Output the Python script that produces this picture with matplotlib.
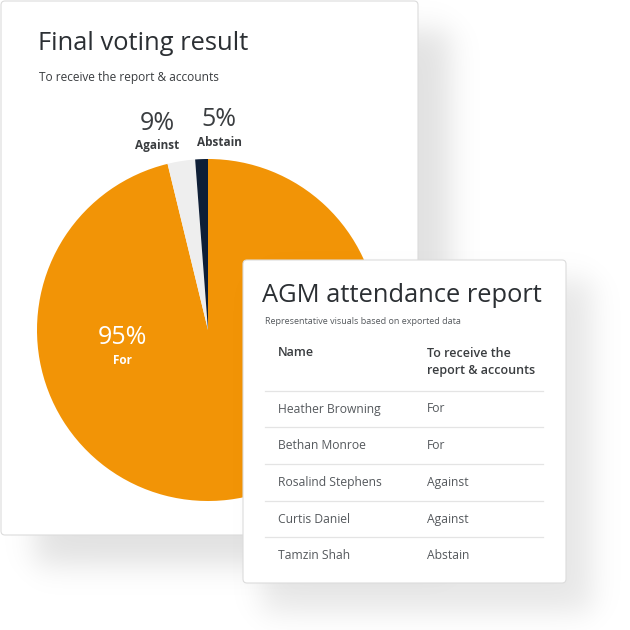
import numpy as np
import matplotlib
matplotlib.use("Agg")
import matplotlib.pyplot as plt
from matplotlib.patches import FancyBboxPatch

plt.rcParams['font.family'] = ['Open Sans', 'Noto Sans', 'DejaVu Sans']

# pie data (shares)
vote_labels = ["For", "Against", "Abstain"]
vote_shares = [96.2, 2.6, 1.2]
vote_pct_text = ["95%", "9%", "5%"]
vote_colors = ["#F29406", "#EEEEEE", "#0E1E36"]

# table data
table_title = "AGM attendance report"
table_note = "Representative visuals based on exported data"
col_headers = ["Name", "To receive the\nreport & accounts"]
names = ["Heather Browning", "Bethan Monroe", "Rosalind Stephens", "Curtis Daniel", "Tamzin Shah"]
votes = ["For", "For", "Against", "Against", "Abstain"]

W = H = 630
fig = plt.figure(figsize=(6.3, 6.3), dpi=100)
fig.patch.set_facecolor("white")


def px_axes(z):
    ax = fig.add_axes([0, 0, 1, 1], zorder=z)
    ax.set_xlim(0, W)
    ax.set_ylim(H, 0)
    ax.axis("off")
    ax.patch.set_alpha(0)
    return ax


def shadow(ax, x0, y0, x1, y1, s, a):
    xs = np.arange(W) + 0.5
    ys = np.arange(H) + 0.5
    fx = 1 / (1 + np.exp(-(xs - x0) / s)) * 1 / (1 + np.exp((xs - x1) / s))
    fy = 1 / (1 + np.exp(-(ys - y0) / s)) * 1 / (1 + np.exp((ys - y1) / s))
    img = np.zeros((H, W, 4))
    img[..., 3] = a * np.outer(fy, fx)
    ax.imshow(img, extent=(0, W, H, 0), interpolation="bilinear", zorder=0)


def card(ax, x0, y0, x1, y1):
    ax.add_patch(FancyBboxPatch((x0, y0), x1 - x0, y1 - y0,
                                boxstyle="round,pad=0,rounding_size=4",
                                fc="white", ec="#DCDCDC", lw=0.8, zorder=1))


# background layer: first card
bg = px_axes(0)
shadow(bg, 35, 30, 450, 565, 9, 0.12)
card(bg, 1, 1, 418, 535)
bg.text(38, 44, "Final voting result", fontsize=18.4, color="#2B2F33", va="center")
bg.text(39, 77, "To receive the report & accounts", fontsize=8.6, color="#3A3D40", va="center")

# pie layer
cx, cy, r = 208, 330, 171
pie_ax = fig.add_axes([(cx - r) / W, 1 - (cy + r) / H, 2 * r / W, 2 * r / H], zorder=1)
pie_ax.pie(vote_shares, colors=vote_colors, startangle=90, counterclock=False,
           wedgeprops=dict(linewidth=0))
pie_ax.set_xlim(-1, 1)
pie_ax.set_ylim(-1, 1)
pie_ax.axis("off")

# pie labels (pixel positions)
lab = px_axes(2)
lab_pos = [(122, 338, "white"), (157, 124, "#3A3D40"), (219, 120, "#3A3D40")]
for (lx, ly, c), pct, name in zip(lab_pos, vote_pct_text, vote_labels):
    lab.text(lx, ly, pct, fontsize=18, color=c, ha="center", va="center")
    lab.text(lx, ly + 22, name, fontsize=8.5, color=c, ha="center", va="center", fontweight="bold")

# top layer: second card with table
top = px_axes(3)
shadow(top, 262, 280, 592, 612, 9, 0.10)
card(top, 243, 260, 566, 583)
top.text(262, 296, table_title, fontsize=18.4, color="#2B2F33", va="center")
top.text(265, 322, table_note, fontsize=6.5, color="#55595D", va="center")
top.text(278, 353, col_headers[0], fontsize=9, color="#3A3D40", va="center", fontweight="semibold")
top.text(427, 362, col_headers[1], fontsize=9, color="#3A3D40", va="center",
         fontweight="semibold", linespacing=1.45)
top.plot([265, 543], [391, 391], color="#E4E4E4", lw=0.9)
row_h = 36.7
for i, (n, v) in enumerate(zip(names, votes)):
    y = 409 + i * row_h
    top.text(278, y, n, fontsize=8.7, color="#55595D", va="center")
    top.text(427, y, v, fontsize=8.7, color="#55595D", va="center")
    if i < len(names) - 1:
        top.plot([265, 543], [y + 18.3, y + 18.3], color="#E4E4E4", lw=0.9)

fig.savefig("out.png", dpi=100)
